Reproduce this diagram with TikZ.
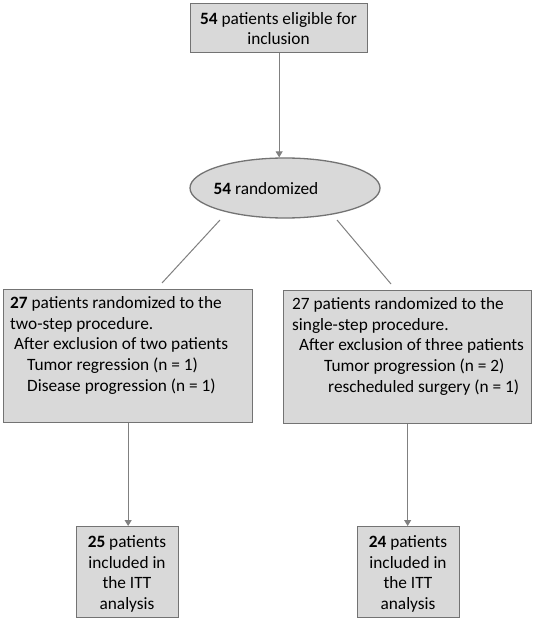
\documentclass[tikz,border=0pt]{standalone}
\usepackage{fontspec}
\setmainfont{Carlito}
\usetikzlibrary{arrows.meta,shapes.geometric}
\definecolor{boxfill}{RGB}{217,217,217}
\definecolor{boxline}{RGB}{115,115,115}
\definecolor{arrowc}{RGB}{128,128,128}
\begin{document}
\begin{tikzpicture}[x=1pt,y=-1pt,
  every node/.style={font=\fontsize{17.3}{20.6}\selectfont},
  box/.style={draw=boxline,fill=boxfill,line width=1.3pt,rectangle,anchor=north west,inner sep=0pt,align=center},
  ovalbox/.style={draw=boxline,fill=boxfill,line width=1.3pt,ellipse,inner sep=0pt},
  txt/.style={anchor=north west,inner sep=0pt,align=left},
  ctxt/.style={inner sep=0pt,align=center},
  conn/.style={draw=arrowc,line width=1pt},
  arr/.style={conn,-{Triangle[width=7pt,length=6pt]}}
]
\useasboundingbox (0,0) rectangle (536,620);
\fill[white] (0,0) rectangle (536,620);

\node[box,minimum width=177pt,minimum height=49pt] (top) at (190,3) {};
\node[ctxt] (toptxt) at (278.5,28.5) {\textbf{54} patients eligible for\\inclusion};

\node[ovalbox,minimum width=190pt,minimum height=60pt] (ell) at (285,188) {};
\node[inner sep=0pt] (elltxt) at (266,189) {\textbf{54} randomized};

\node[box,minimum width=249pt,minimum height=133pt] (lbox) at (3,289) {};
\node[txt] (ltxt) at (10,296.5) {\textbf{27} patients randomized to the\\two-step procedure.\\\hspace*{4pt}After exclusion of two patients\\\hspace*{17pt}Tumor regression (n = 1)\\\hspace*{17pt}Disease progression (n = 1)};

\node[box,minimum width=248pt,minimum height=133pt] (rbox) at (283,290) {};
\node[txt] (rtxt) at (292,297.5) {27 patients randomized to the\\single-step procedure.\\\hspace*{7pt}After exclusion of three patients\\\hspace*{32pt}Tumor progression (n = 2)\\\hspace*{36pt}rescheduled surgery (n = 1)};

\node[box,minimum width=102pt,minimum height=91pt] (lres) at (76,526) {};
\node[ctxt] (lrestxt) at (127,574) {\textbf{25} patients\\included in\\the ITT\\analysis};
\node[box,minimum width=102pt,minimum height=91pt] (rres) at (357,526) {};
\node[ctxt] (rrestxt) at (408,574) {\textbf{24} patients\\included in\\the ITT\\analysis};

\coordinate (la) at (220,220);
\coordinate (lb) at (162,283);
\coordinate (ra) at (337,220);
\coordinate (rb) at (391,284);

\draw[arr] (top.south) -- (top.south |- ell.north);
\draw[conn] (la) -- (lb);
\draw[conn] (ra) -- (rb);
\draw[arr] (lbox.south) -- (lbox.south |- lres.north);
\draw[arr] (rbox.south) -- (rbox.south |- rres.north);
\end{tikzpicture}
\end{document}
